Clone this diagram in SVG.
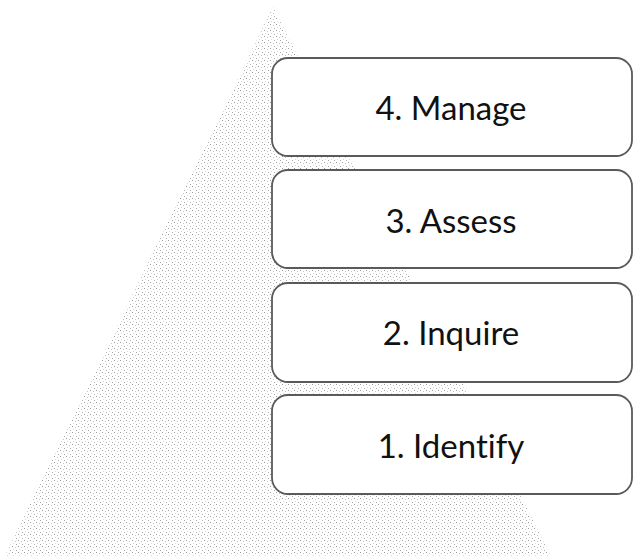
<svg xmlns="http://www.w3.org/2000/svg" width="633" height="556" viewBox="0 0 633 556">
  <defs>
    <pattern id="stipple" x="0" y="0" width="6" height="6" patternUnits="userSpaceOnUse">
      <rect x="0" y="0" width="1" height="1" fill="#9a9a9a"/>
      <rect x="3" y="1" width="1" height="1" fill="#c4c4c4"/>
      <rect x="1" y="3" width="1" height="1" fill="#d8d8d8"/>
      <rect x="4" y="4" width="1" height="1" fill="#ababab"/>
    </pattern>
  </defs>
  <style>
    .box { fill: #ffffff; stroke: #5a5a5a; stroke-width: 1.8; }
    .label { font-family: Lato, "Open Sans", "Liberation Sans", sans-serif; font-size: 33px; fill: #111111; text-anchor: middle; font-variant-ligatures: none; }
  </style>
  <rect x="0" y="0" width="633" height="556" fill="#ffffff"/>
  <g id="pyramid">
    <polygon points="273,7 5,556 551,556" fill="url(#stipple)"/>
  </g>
  <g id="connectors"></g>
  <g id="step4">
    <rect class="box" x="272" y="58" width="360" height="98" rx="16" ry="16"/>
    <text class="label" x="451" y="120">4. Manage</text>
  </g>
  <g id="step3">
    <rect class="box" x="272" y="170" width="360" height="98" rx="16" ry="16"/>
    <text class="label" x="451" y="233">3. Assess</text>
  </g>
  <g id="step2">
    <rect class="box" x="272" y="283" width="360" height="99" rx="16" ry="16"/>
    <text class="label" x="451" y="345">2. Inquire</text>
  </g>
  <g id="step1">
    <rect class="box" x="272" y="395" width="360" height="99" rx="16" ry="16"/>
    <text class="label" x="451" y="458">1. Identify</text>
  </g>
</svg>
